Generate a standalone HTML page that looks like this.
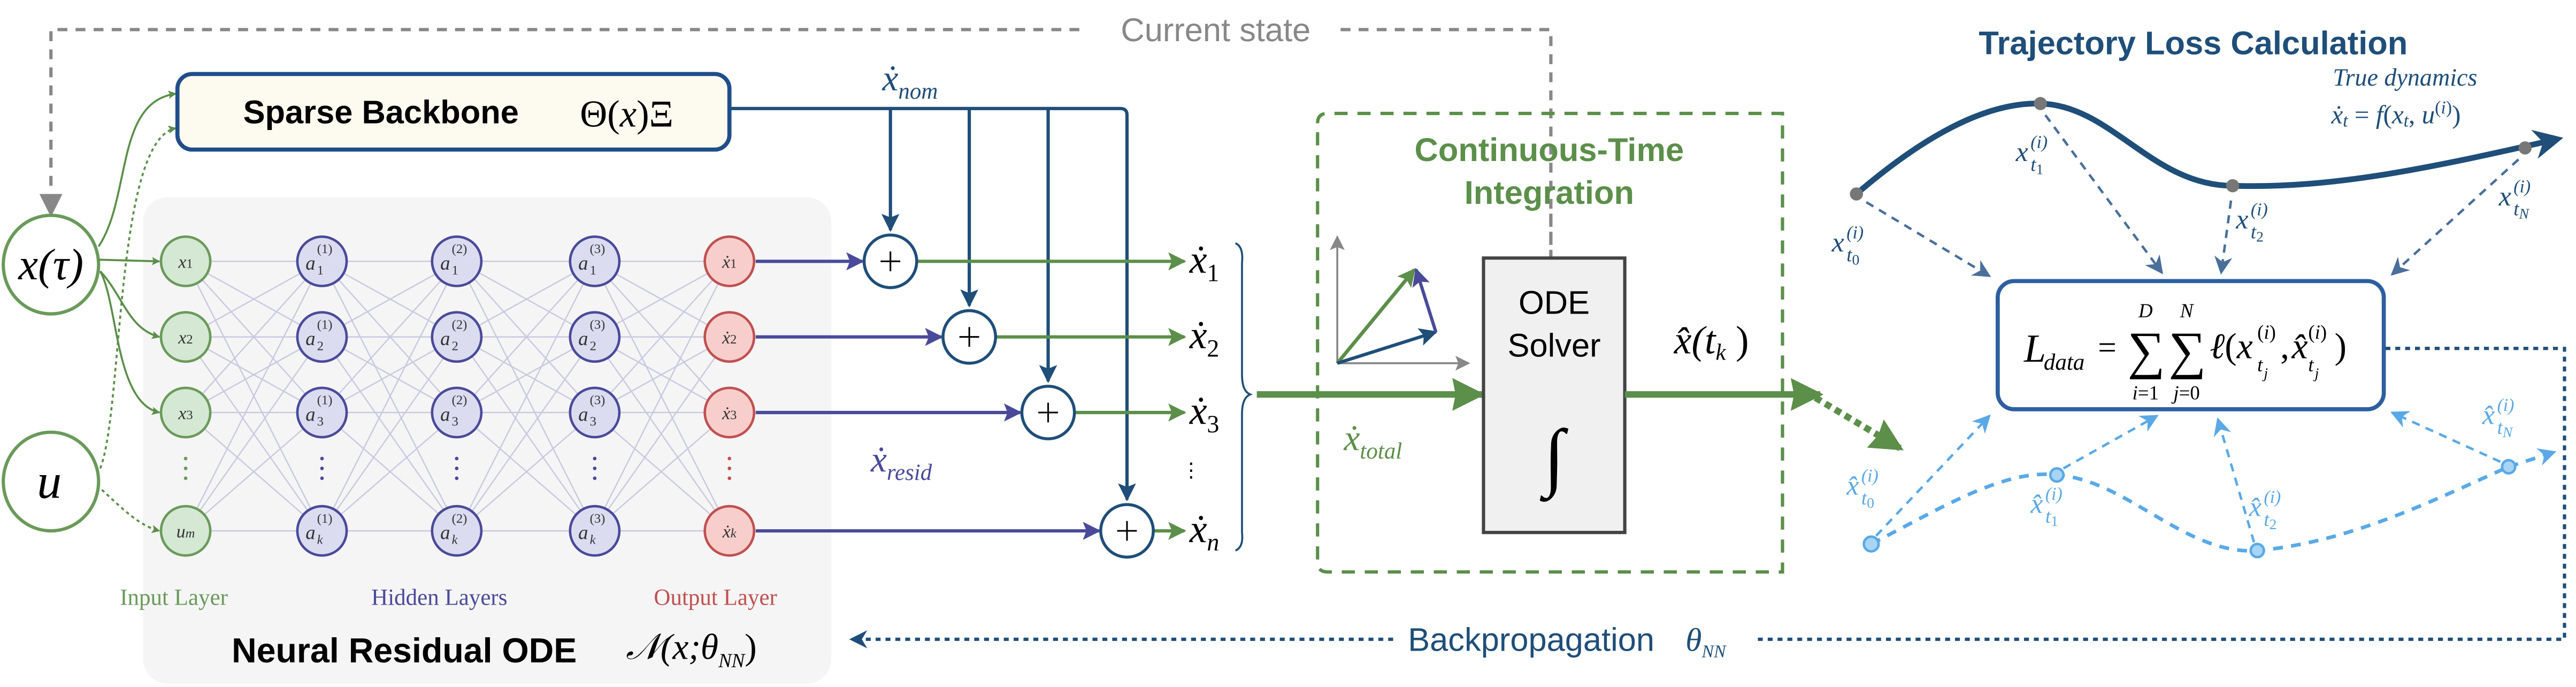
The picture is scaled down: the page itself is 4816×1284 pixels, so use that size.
<!DOCTYPE html>
<html><head><meta charset="utf-8"><style>
html,body{margin:0;padding:0;background:#fff;}
svg{display:block;}
text{font-family:"Liberation Serif",serif;}
.sans{font-family:"Liberation Sans",sans-serif;}
</style></head><body>
<svg width="4816" height="1284" viewBox="0 0 1568 418" xmlns="http://www.w3.org/2000/svg">
<defs>
<marker id="ag" viewBox="0 0 10 10" refX="9" refY="5" markerWidth="5" markerHeight="5" orient="auto" markerUnits="userSpaceOnUse"><path d="M0 0L10 5L0 10L2 5z" fill="#5b8f4a"/></marker>
<marker id="agy" viewBox="0 0 10 10" refX="9" refY="5" markerWidth="9" markerHeight="9" orient="auto" markerUnits="userSpaceOnUse"><path d="M0 0L10 5L0 10L2 5z" fill="#888"/></marker>
<marker id="ab" viewBox="0 0 10 10" refX="9" refY="5" markerWidth="11" markerHeight="11" orient="auto" markerUnits="userSpaceOnUse"><path d="M0 0L10 5L0 10L2 5z" fill="#1f4e79"/></marker>
<marker id="ap" viewBox="0 0 10 10" refX="9" refY="5" markerWidth="11" markerHeight="11" orient="auto" markerUnits="userSpaceOnUse"><path d="M0 0L10 5L0 10L2 5z" fill="#4a4a9a"/></marker>
<marker id="ag2" viewBox="0 0 10 10" refX="9" refY="5" markerWidth="11" markerHeight="11" orient="auto" markerUnits="userSpaceOnUse"><path d="M0 0L10 5L0 10L2 5z" fill="#5b8f4a"/></marker>
<marker id="agb" viewBox="0 0 10 10" refX="9" refY="5" markerWidth="20" markerHeight="20" orient="auto" markerUnits="userSpaceOnUse"><path d="M0 0L10 5L0 10L1 5z" fill="#5b8f4a"/></marker>
<marker id="adb" viewBox="0 0 10 10" refX="9" refY="5" markerWidth="11" markerHeight="11" orient="auto" markerUnits="userSpaceOnUse"><path d="M0 0L10 5L0 10L3 5z" fill="#4a6f9a"/></marker>
<marker id="alb" viewBox="0 0 10 10" refX="9" refY="5" markerWidth="11" markerHeight="11" orient="auto" markerUnits="userSpaceOnUse"><path d="M0 0L10 5L0 10L3 5z" fill="#5aa9e6"/></marker>
<marker id="atb" viewBox="0 0 10 10" refX="7" refY="5" markerWidth="18" markerHeight="18" orient="auto" markerUnits="userSpaceOnUse"><path d="M0 0L10 5L0 10L3 5z" fill="#1f4e79"/></marker>
<marker id="abk" viewBox="0 0 10 10" refX="9" refY="5" markerWidth="11" markerHeight="11" orient="auto" markerUnits="userSpaceOnUse"><path d="M0 0L10 5L0 10L3 5z" fill="#1f4e79"/></marker>
<g id="net" stroke="#c9c9e2" stroke-width="0.8" fill="none">
<path d="M0 159L83 159M0 159L83 205M0 159L83 251M0 159L83 323M0 205L83 159M0 205L83 205M0 205L83 251M0 205L83 323M0 251L83 159M0 251L83 205M0 251L83 251M0 251L83 323M0 323L83 159M0 323L83 205M0 323L83 251M0 323L83 323"/>
</g>
</defs>

<path d="M31 124V18H662M816 18H944V157" fill="none" stroke="#888" stroke-width="2" stroke-dasharray="6,5"/>
<path d="M24 118L31 132L38 118z" fill="#888"/>
<text x="740" y="25" class="sans" font-size="20" fill="#888" text-anchor="middle">Current state</text>

<rect x="87" y="120" width="419" height="296" rx="15" fill="#f5f5f5"/>
<use href="#net" x="113"/><use href="#net" x="196"/><use href="#net" x="279"/><use href="#net" x="361"/>

<ellipse cx="31" cy="161" rx="29" ry="30" fill="#fff" stroke="#6a9a5a" stroke-width="2"/>
<text x="31" y="170" font-size="27" font-style="italic" text-anchor="middle">x(τ)</text>
<ellipse cx="31" cy="293" rx="29" ry="30" fill="#fff" stroke="#6a9a5a" stroke-width="2"/>
<text x="30" y="303" font-size="30" font-style="italic" text-anchor="middle">u</text>

<g fill="none" stroke="#5b8f4a" stroke-width="1.2">
<path d="M60 158L97 159" marker-end="url(#ag)"/>
<path d="M61 165C75 180 78 200 97 205" marker-end="url(#ag)"/>
<path d="M61 165C72 185 70 245 97 251" marker-end="url(#ag)"/>
<path d="M60 150C80 120 70 62 107 57" marker-end="url(#ag)"/>
<path d="M61 285C75 250 70 85 107 78" stroke-dasharray="2,2" marker-end="url(#ag)"/>
<path d="M62 298C75 310 85 320 97 323" stroke-dasharray="2,2" marker-end="url(#ag)"/>
</g>

<rect x="108" y="45" width="336" height="46" rx="9" fill="#fdfbf0" stroke="#1f4e89" stroke-width="2.5"/>
<text x="148" y="75" class="sans" font-size="20" font-weight="bold">Sparse Backbone</text>
<text x="353" y="77" font-size="23">Θ(<tspan font-style="italic">x</tspan>)Ξ</text>

<g stroke-width="1.5">
<g fill="#d5e8d4" stroke="#6a9a5a">
<circle cx="113" cy="159" r="15"/><circle cx="113" cy="205" r="15"/><circle cx="113" cy="251" r="15"/><circle cx="113" cy="323" r="15"/>
</g>
<g fill="#dcdcf0" stroke="#4a4a9a">
<circle cx="196" cy="159" r="15"/><circle cx="196" cy="205" r="15"/><circle cx="196" cy="251" r="15"/><circle cx="196" cy="323" r="15"/>
<circle cx="278" cy="159" r="15"/><circle cx="278" cy="205" r="15"/><circle cx="278" cy="251" r="15"/><circle cx="278" cy="323" r="15"/>
<circle cx="362" cy="159" r="15"/><circle cx="362" cy="205" r="15"/><circle cx="362" cy="251" r="15"/><circle cx="362" cy="323" r="15"/>
</g>
<g fill="#f8cecc" stroke="#c05050">
<circle cx="444" cy="159" r="15"/><circle cx="444" cy="205" r="15"/><circle cx="444" cy="251" r="15"/><circle cx="444" cy="323" r="15"/>
</g>
</g>
<g font-size="11" font-style="italic" text-anchor="middle" fill="#333">
<text x="113" y="163">x<tspan font-size="8" font-style="normal">1</tspan></text>
<text x="113" y="209">x<tspan font-size="8" font-style="normal">2</tspan></text>
<text x="113" y="255">x<tspan font-size="8" font-style="normal">3</tspan></text>
<text x="113" y="327">u<tspan font-size="8">m</tspan></text>
<text x="444" y="163">ẋ<tspan font-size="8" font-style="normal">1</tspan></text>
<text x="444" y="209">ẋ<tspan font-size="8" font-style="normal">2</tspan></text>
<text x="444" y="255">ẋ<tspan font-size="8" font-style="normal">3</tspan></text>
<text x="444" y="327">ẋ<tspan font-size="8">k</tspan></text>
</g>
<g font-size="12" font-style="italic" fill="#333">
<text x="186" y="164">a</text><text x="186" y="210">a</text><text x="186" y="256">a</text><text x="186" y="328">a</text>
<text x="268" y="164">a</text><text x="268" y="210">a</text><text x="268" y="256">a</text><text x="268" y="328">a</text>
<text x="352" y="164">a</text><text x="352" y="210">a</text><text x="352" y="256">a</text><text x="352" y="328">a</text>
</g>
<g font-size="8" fill="#333">
<text x="193" y="154">(1)</text><text x="193" y="200">(1)</text><text x="193" y="246">(1)</text><text x="193" y="318">(1)</text>
<text x="275" y="154">(2)</text><text x="275" y="200">(2)</text><text x="275" y="246">(2)</text><text x="275" y="318">(2)</text>
<text x="359" y="154">(3)</text><text x="359" y="200">(3)</text><text x="359" y="246">(3)</text><text x="359" y="318">(3)</text>
<text x="193" y="167">1</text><text x="193" y="213">2</text><text x="193" y="259">3</text><text x="193" y="331" font-style="italic">k</text>
<text x="275" y="167">1</text><text x="275" y="213">2</text><text x="275" y="259">3</text><text x="275" y="331" font-style="italic">k</text>
<text x="359" y="167">1</text><text x="359" y="213">2</text><text x="359" y="259">3</text><text x="359" y="331" font-style="italic">k</text>
</g>
<g>
<g fill="#6a9a5a"><circle cx="113" cy="279" r="1.1"/><circle cx="113" cy="285" r="1.1"/><circle cx="113" cy="291" r="1.1"/></g>
<g fill="#4a4a9a"><circle cx="196" cy="279" r="1.1"/><circle cx="196" cy="285" r="1.1"/><circle cx="196" cy="291" r="1.1"/><circle cx="278" cy="279" r="1.1"/><circle cx="278" cy="285" r="1.1"/><circle cx="278" cy="291" r="1.1"/><circle cx="362" cy="279" r="1.1"/><circle cx="362" cy="285" r="1.1"/><circle cx="362" cy="291" r="1.1"/></g>
<g fill="#c05050"><circle cx="444" cy="279" r="1.1"/><circle cx="444" cy="285" r="1.1"/><circle cx="444" cy="291" r="1.1"/></g>
</g>
<text x="73" y="368" font-size="14" fill="#6a9a5a">Input Layer</text>
<text x="226" y="368" font-size="14" fill="#4a4a9a">Hidden Layers</text>
<text x="398" y="368" font-size="14" fill="#c05050">Output Layer</text>
<text x="141" y="403" class="sans" font-size="21" font-weight="bold">Neural Residual ODE</text>
<text x="381" y="401" font-size="22" font-style="italic">𝒩(x;θ<tspan font-size="12" dy="5">NN</tspan><tspan dy="-5" font-style="normal">)</tspan></text>

<path d="M445 66H682Q686 66 686 70V304" fill="none" stroke="#1f4e79" stroke-width="2" marker-end="url(#ab)"/>
<path d="M542 66V140" fill="none" stroke="#1f4e79" stroke-width="2" marker-end="url(#ab)"/>
<path d="M590 66V186" fill="none" stroke="#1f4e79" stroke-width="2" marker-end="url(#ab)"/>
<path d="M638 66V232" fill="none" stroke="#1f4e79" stroke-width="2" marker-end="url(#ab)"/>
<text x="537" y="55" font-size="22" font-style="italic" fill="#1f4e79">ẋ<tspan font-size="14" dy="5">nom</tspan></text>

<g stroke="#4a4a9a" stroke-width="2" fill="none">
<path d="M460 159H525" marker-end="url(#ap)"/>
<path d="M460 205H573" marker-end="url(#ap)"/>
<path d="M460 251H621" marker-end="url(#ap)"/>
<path d="M460 323H669" marker-end="url(#ap)"/>
</g>
<text x="530" y="287" font-size="22" font-style="italic" fill="#4a4a9a">ẋ<tspan font-size="14" dy="5">resid</tspan></text>

<g stroke="#5b8f4a" stroke-width="2" fill="none">
<path d="M558 159H721" marker-end="url(#ag2)"/>
<path d="M606 205H721" marker-end="url(#ag2)"/>
<path d="M654 251H721" marker-end="url(#ag2)"/>
<path d="M702 323H721" marker-end="url(#ag2)"/>
</g>
<g fill="#fff" stroke="#1f4e79" stroke-width="1.8">
<circle cx="542" cy="159" r="16"/><circle cx="590" cy="205" r="16"/><circle cx="638" cy="251" r="16"/><circle cx="686" cy="323" r="16"/>
</g>
<g stroke="#000" stroke-width="1">
<path d="M536 159H548M542 153V165M584 205H596M590 199V211M632 251H644M638 245V257M680 323H692M686 317V329"/>
</g>
<g font-size="24" font-style="italic">
<text x="724" y="166">ẋ<tspan font-size="15" font-style="normal" dy="5">1</tspan></text>
<text x="724" y="212">ẋ<tspan font-size="15" font-style="normal" dy="5">2</tspan></text>
<text x="724" y="258">ẋ<tspan font-size="15" font-style="normal" dy="5">3</tspan></text>
<text x="724" y="330">ẋ<tspan font-size="15" dy="5">n</tspan></text>
</g>
<text x="719" y="290" font-size="12">⋮</text>
<path d="M752 148Q757 150 756 160V228Q756 238 761 240Q756 242 756 252V324Q757 333 752 335" fill="none" stroke="#1f4e79" stroke-width="1.2"/>

<path d="M802 75Q802 69 808 69H1085V348H808Q802 348 802 342Z" fill="none" stroke="#5b8f4a" stroke-width="2" stroke-dasharray="8,6"/>
<text x="943" y="98" class="sans" font-size="20" font-weight="bold" fill="#5b8f4a" text-anchor="middle">Continuous-Time</text>
<text x="943" y="124" class="sans" font-size="20" font-weight="bold" fill="#5b8f4a" text-anchor="middle">Integration</text>
<path d="M944 130V157" stroke="#888" stroke-width="2" stroke-dasharray="6,5"/>

<path d="M765 240H902" stroke="#5b8f4a" stroke-width="4" fill="none" marker-end="url(#agb)"/>
<text x="818" y="274" font-size="22" font-style="italic" fill="#5b8f4a">ẋ<tspan font-size="14" dy="5">total</tspan></text>

<g fill="none" stroke-width="1.2">
<path d="M814 221V144" stroke="#888" marker-end="url(#agy)"/>
<path d="M814 221H894" stroke="#888" marker-end="url(#agy)"/>
<path d="M814 221L861 164" stroke="#5b8f4a" stroke-width="2.2" marker-end="url(#ag2)"/>
<path d="M814 221L874 202" stroke="#1f4e79" stroke-width="2" marker-end="url(#ab)"/>
<path d="M874 202L862 164" stroke="#4a4a9a" stroke-width="2" marker-end="url(#ap)"/>
</g>

<rect x="903" y="157" width="86" height="167" fill="#f0f0f0" stroke="#444" stroke-width="2"/>
<text x="946" y="191" class="sans" font-size="20" text-anchor="middle">ODE</text>
<text x="946" y="217" class="sans" font-size="20" text-anchor="middle">Solver</text>
<text x="946" y="293" font-size="46" text-anchor="middle">∫</text>

<text x="1019" y="215" font-size="24" font-style="italic">x̂(t<tspan font-size="14" dy="4">k</tspan><tspan dy="-4" font-style="normal"> )</tspan></text>
<path d="M989 240H1108" stroke="#5b8f4a" stroke-width="4" fill="none" marker-end="url(#agb)"/>
<path d="M1105 242L1157 273" stroke="#5b8f4a" stroke-width="4" fill="none" stroke-dasharray="4,3" marker-end="url(#agb)"/>

<text x="1335" y="33" class="sans" font-size="20" font-weight="bold" fill="#1f4e79" text-anchor="middle">Trajectory Loss Calculation</text>
<text x="1420" y="52" font-size="15" font-style="italic" fill="#1f4e79">True dynamics</text>
<text x="1419" y="75" font-size="16" font-style="italic" fill="#1f4e79">ẋ<tspan font-size="11" dy="2">t</tspan><tspan dy="-2" font-style="normal"> = </tspan>f<tspan font-style="normal">(</tspan>x<tspan font-size="11" dy="2">t</tspan><tspan dy="-2" font-style="normal">, </tspan>u<tspan font-size="11" dy="-6" font-style="normal">(</tspan><tspan font-size="11">i</tspan><tspan font-size="11" font-style="normal">)</tspan><tspan dy="6" font-style="normal">)</tspan></text>

<path d="M1130 118C1165 88 1205 62 1242 63C1285 64 1310 113 1359 113C1420 115 1480 102 1555 85" fill="none" stroke="#1f4e79" stroke-width="3.5" marker-end="url(#atb)"/>
<g fill="#777"><circle cx="1130" cy="118" r="4"/><circle cx="1242" cy="63" r="4"/><circle cx="1359" cy="113" r="4"/><circle cx="1537" cy="90" r="4"/></g>

<g stroke="#4a6f9a" stroke-width="1.5" fill="none" stroke-dasharray="5,4">
<path d="M1136 123L1211 168" marker-end="url(#adb)"/>
<path d="M1245 70L1316 166" marker-end="url(#adb)"/>
<path d="M1358 122L1352 166" marker-end="url(#adb)"/>
<path d="M1533 97L1456 167" marker-end="url(#adb)"/>
</g>
<g font-style="italic" fill="#1f4e79">
<text x="1115" y="153" font-size="17">x</text><text x="1124" y="145" font-size="11">(i)</text><text x="1124" y="159" font-size="12">t<tspan font-size="9" font-style="normal" dy="2">0</tspan></text>
<text x="1227" y="98" font-size="17">x</text><text x="1236" y="90" font-size="11">(i)</text><text x="1236" y="104" font-size="12">t<tspan font-size="9" font-style="normal" dy="2">1</tspan></text>
<text x="1361" y="139" font-size="17">x</text><text x="1370" y="131" font-size="11">(i)</text><text x="1370" y="145" font-size="12">t<tspan font-size="9" font-style="normal" dy="2">2</tspan></text>
<text x="1521" y="125" font-size="17">x</text><text x="1530" y="117" font-size="11">(i)</text><text x="1530" y="131" font-size="12">t<tspan font-size="9" dy="2">N</tspan></text>
</g>

<rect x="1216" y="171" width="235" height="78" rx="10" fill="#fff" stroke="#2d5fa0" stroke-width="2.5"/>
<g font-style="italic">
<text x="1232" y="220" font-size="24">L</text><text x="1244" y="225" font-size="14">data</text>
<text x="1277" y="218" font-size="20" font-style="normal">=</text>
<text x="1295" y="224" font-size="32" font-style="normal">∑</text>
<text x="1320" y="224" font-size="32" font-style="normal">∑</text>
<text x="1306" y="193" font-size="12" text-anchor="middle">D</text>
<text x="1331" y="193" font-size="12" text-anchor="middle">N</text>
<text x="1306" y="243" font-size="12" text-anchor="middle">i<tspan font-style="normal">=1</tspan></text>
<text x="1331" y="243" font-size="12" text-anchor="middle">j<tspan font-style="normal">=0</tspan></text>
<text x="1345" y="218" font-size="22">ℓ<tspan font-style="normal">(</tspan>x</text>
<text x="1374" y="206" font-size="12" font-style="normal">(<tspan font-style="italic">i</tspan>)</text>
<text x="1374" y="226" font-size="12">t</text><text x="1378" y="230" font-size="9">j</text>
<text x="1388" y="218" font-size="22" font-style="normal">,</text>
<text x="1395" y="218" font-size="22">x̂</text>
<text x="1405" y="206" font-size="12" font-style="normal">(<tspan font-style="italic">i</tspan>)</text>
<text x="1405" y="226" font-size="12">t</text><text x="1409" y="230" font-size="9">j</text>
<text x="1421" y="218" font-size="22" font-style="normal">)</text>
</g>

<path d="M1139 331C1180 310 1220 285 1252 289C1295 292 1330 338 1374 335C1430 330 1480 305 1527 284" fill="none" stroke="#5aa9e6" stroke-width="2.2" stroke-dasharray="6,5"/>
<path d="M1527 284L1555 275" fill="none" stroke="#5aa9e6" stroke-width="2.2" stroke-dasharray="6,5" marker-end="url(#alb)"/>
<g fill="#a8d4f5" stroke="#5aa9e6" stroke-width="1.5"><circle cx="1139" cy="331" r="4.5"/><circle cx="1252" cy="289" r="4"/><circle cx="1374" cy="335" r="4"/><circle cx="1527" cy="284" r="4"/></g>
<g stroke="#5aa9e6" stroke-width="1.5" fill="none" stroke-dasharray="5,4">
<path d="M1142 326L1211 253" marker-end="url(#alb)"/>
<path d="M1256 285L1313 253" marker-end="url(#alb)"/>
<path d="M1372 330L1350 255" marker-end="url(#alb)"/>
<path d="M1522 281L1456 251" marker-end="url(#alb)"/>
</g>
<g font-style="italic" fill="#5aa9e6">
<text x="1124" y="301" font-size="17">x̂</text><text x="1133" y="293" font-size="11">(i)</text><text x="1133" y="307" font-size="12">t<tspan font-size="9" font-style="normal" dy="2">0</tspan></text>
<text x="1236" y="312" font-size="17">x̂</text><text x="1245" y="304" font-size="11">(i)</text><text x="1245" y="318" font-size="12">t<tspan font-size="9" font-style="normal" dy="2">1</tspan></text>
<text x="1369" y="314" font-size="17">x̂</text><text x="1378" y="306" font-size="11">(i)</text><text x="1378" y="320" font-size="12">t<tspan font-size="9" font-style="normal" dy="2">2</tspan></text>
<text x="1511" y="258" font-size="17">x̂</text><text x="1520" y="250" font-size="11">(i)</text><text x="1520" y="264" font-size="12">t<tspan font-size="9" dy="2">N</tspan></text>
</g>

<path d="M1452 212H1561V389H1070" fill="none" stroke="#1f4e79" stroke-width="2" stroke-dasharray="3,3"/>
<path d="M848 389H518" fill="none" stroke="#1f4e79" stroke-width="2" stroke-dasharray="3,3" marker-end="url(#abk)"/>
<text x="857" y="396" class="sans" font-size="20" fill="#1f4e79">Backpropagation</text>
<text x="1026" y="396" font-size="20" font-style="italic" fill="#1f4e79">θ<tspan font-size="11" dy="4">NN</tspan></text>
</svg>
</body></html>
